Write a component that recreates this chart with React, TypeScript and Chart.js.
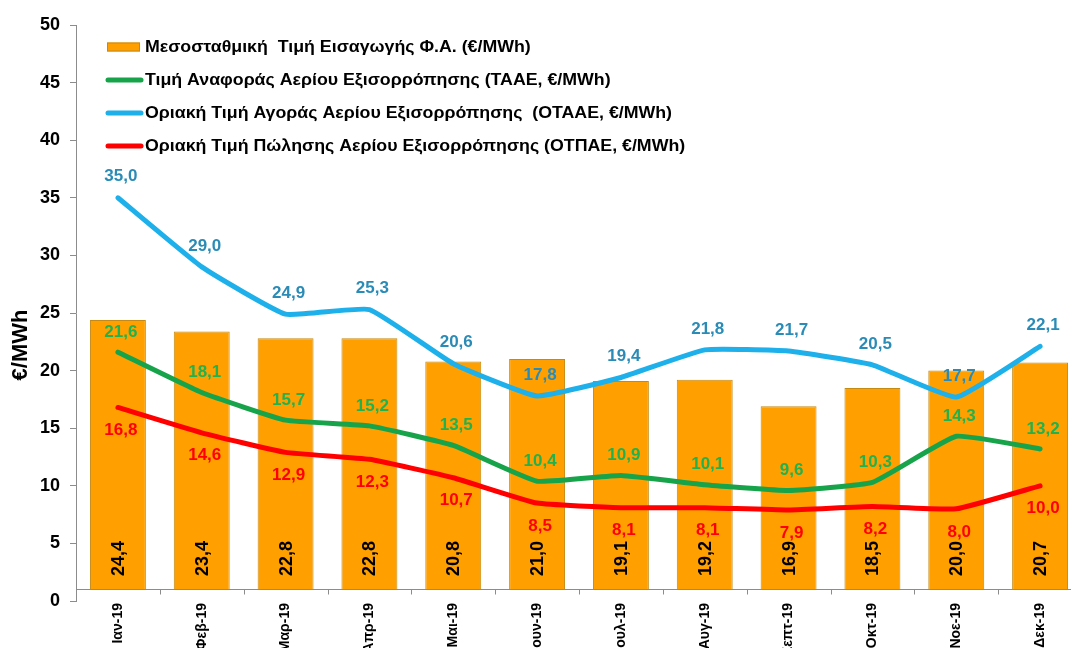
import React, { useEffect, useRef } from 'react';
import { Chart, registerables } from 'chart.js';

Chart.register(...registerables);

const categories = ['Ιαν-19', 'Φεβ-19', 'Μαρ-19', 'Απρ-19', 'Μαι-19', 'Ιουν-19', 'Ιουλ-19', 'Αυγ-19', 'Σεπτ-19', 'Οκτ-19', 'Νοε-19', 'Δεκ-19'];
const importPrice = [24.4, 23.4, 22.8, 22.8, 20.8, 21.0, 19.1, 19.2, 16.9, 18.5, 20.0, 20.7];
const taae = [21.6, 18.1, 15.7, 15.2, 13.5, 10.4, 10.9, 10.1, 9.6, 10.3, 14.3, 13.2];
const otaae = [35.0, 29.0, 24.9, 25.3, 20.6, 17.8, 19.4, 21.8, 21.7, 20.5, 17.7, 22.1];
const otpae = [16.8, 14.6, 12.9, 12.3, 10.7, 8.5, 8.1, 8.1, 7.9, 8.2, 8.0, 10.0];
const seriesNames = [
  'Μεσοσταθμική  Τιμή Εισαγωγής Φ.Α. (€/MWh)',
  'Τιμή Αναφοράς Αερίου Εξισορρόπησης (ΤΑΑΕ, €/MWh)',
  'Οριακή Τιμή Αγοράς Αερίου Εξισορρόπησης  (ΟΤΑΑΕ, €/MWh)',
  'Οριακή Τιμή Πώλησης Αερίου Εξισορρόπησης (ΟΤΠΑΕ, €/MWh)',
];
const yTitle = '€/MWh';
const yMin = 0;
const yMax = 50;
const yStep = 5;

const FONT = '"Liberation Sans", Arial, sans-serif';
const CW = 1100;
const CH = 680;

const BAR_FILL = '#FFA000';
const BAR_EDGE = '#C58A14';
const GREEN = '#17A34A';
const BLUE = '#1DB0EA';
const RED = '#FF0000';
const GREEN_TXT = '#22B14C';
const BLUE_TXT = '#2A8BB6';
const RED_TXT = '#FF0000';
const AXIS = '#8C8C8C';

const fmt = (v: number) => v.toFixed(1).replace('.', ',');

const overlay = {
  id: 'overlay',
  afterDatasetsDraw(chart: any) {
    const ctx = chart.ctx as CanvasRenderingContext2D;
    const xs = chart.scales.x;
    const ys = chart.scales.y;
    const area = chart.chartArea;
    ctx.save();
    const ly = Math.round(ys.getPixelForValue(1)) + 0.5;
    const step = xs.getPixelForValue(1) - xs.getPixelForValue(0);
    ctx.strokeStyle = AXIS;
    ctx.lineWidth = 1;
    ctx.beginPath();
    ctx.moveTo(area.left, ly);
    ctx.lineTo(area.right, ly);
    for (let i = 1; i <= categories.length; i++) {
      const px = Math.round(xs.getPixelForValue(i) - step / 2) + 0.5;
      ctx.moveTo(px, ly);
      ctx.lineTo(px, ly + 5);
    }
    ctx.stroke();

    const barMeta = chart.getDatasetMeta(0);
    ctx.font = `bold 18px ${FONT}`;
    ctx.fillStyle = '#000';
    barMeta.data.forEach((el: any, i: number) => {
      ctx.save();
      ctx.translate(el.x + 1, ys.getPixelForValue(0) - 25);
      ctx.rotate(-Math.PI / 2);
      ctx.textAlign = 'left';
      ctx.textBaseline = 'middle';
      ctx.fillText(fmt(importPrice[i]), 0, 0);
      ctx.restore();
    });

    const specs = [
      { idx: 1, data: taae, color: GREEN_TXT, dy: -20 },
      { idx: 2, data: otaae, color: BLUE_TXT, dy: -21 },
      { idx: 3, data: otpae, color: RED_TXT, dy: 23 },
    ];
    ctx.font = `bold 17px ${FONT}`;
    ctx.textAlign = 'center';
    ctx.textBaseline = 'middle';
    specs.forEach((s) => {
      const meta = chart.getDatasetMeta(s.idx);
      ctx.fillStyle = s.color;
      meta.data.forEach((el: any, i: number) => {
        ctx.fillText(fmt(s.data[i]), el.x + 3, el.y + s.dy);
      });
    });
    ctx.restore();
  },
  afterDraw(chart: any) {
    const ctx = chart.ctx as CanvasRenderingContext2D;
    ctx.save();
    ctx.translate(21, 345);
    ctx.rotate(-Math.PI / 2);
    ctx.font = `bold 22px ${FONT}`;
    ctx.fillStyle = '#000';
    ctx.textAlign = 'center';
    ctx.textBaseline = 'middle';
    ctx.fillText(yTitle, 0, 0);
    ctx.restore();

    ctx.save();
    const rows = [47, 80, 113, 146];
    const colors = [BAR_FILL, GREEN, BLUE, RED];
    rows.forEach((ry, i) => {
      if (i === 0) {
        ctx.fillStyle = BAR_FILL;
        ctx.fillRect(107, ry - 4.5, 33, 9);
        ctx.strokeStyle = BAR_EDGE;
        ctx.lineWidth = 1;
        ctx.strokeRect(107.5, ry - 4, 32, 8);
      } else {
        ctx.strokeStyle = colors[i];
        ctx.lineWidth = 5;
        ctx.lineCap = 'round';
        ctx.beginPath();
        ctx.moveTo(108, ry);
        ctx.lineTo(141, ry);
        ctx.stroke();
      }
      ctx.save();
      ctx.translate(145, ry + 1);
      ctx.scale(1.11, 1);
      ctx.font = `bold 16px ${FONT}`;
      ctx.textBaseline = 'middle';
      ctx.textAlign = 'left';
      ctx.fillStyle = '#000';
      ctx.fillText(seriesNames[i], 0, 0);
      ctx.restore();
    });
    ctx.restore();
  },
};

export default function App() {
  const ref = useRef<HTMLCanvasElement | null>(null);
  useEffect(() => {
    if (!ref.current) return;
    const lineCommon = {
      type: 'line' as const,
      borderWidth: 5,
      pointRadius: 0,
      pointHoverRadius: 0,
      tension: 0.12,
      borderCapStyle: 'round' as const,
      borderJoinStyle: 'round' as const,
      fill: false,
      order: 0,
    };
    const chart = new Chart(ref.current, {
      type: 'bar',
      data: {
        labels: categories,
        datasets: [
          {
            type: 'bar',
            label: seriesNames[0],
            data: importPrice,
            backgroundColor: BAR_FILL,
            borderColor: BAR_EDGE,
            borderWidth: 1,
            base: 1,
            barPercentage: 0.667,
            categoryPercentage: 1,
            order: 10,
          } as any,
          { ...lineCommon, label: seriesNames[1], data: taae, borderColor: GREEN, backgroundColor: GREEN },
          { ...lineCommon, label: seriesNames[2], data: otaae, borderColor: BLUE, backgroundColor: BLUE },
          { ...lineCommon, label: seriesNames[3], data: otpae, borderColor: RED, backgroundColor: RED },
        ],
      },
      options: {
        responsive: false,
        animation: false,
        devicePixelRatio: 1,
        layout: { padding: { top: 25, right: 18, left: 0, bottom: 0 } },
        plugins: { legend: { display: false }, tooltip: { enabled: false }, title: { display: false } },
        scales: {
          x: {
            type: 'category',
            offset: true,
            grid: { display: false, drawTicks: false },
            border: { display: false },
            ticks: {
              autoSkip: false,
              minRotation: 90,
              maxRotation: 90,
              padding: 2,
              color: '#000',
              font: { family: FONT, size: 14, weight: 'bold' },
            },
            afterFit: (s: any) => { s.height = CH - 601; },
          },
          y: {
            min: yMin,
            max: yMax,
            ticks: { stepSize: yStep, padding: 10, color: '#000', font: { family: FONT, size: 18, weight: 'bold' } },
            grid: { drawOnChartArea: false, drawTicks: true, tickLength: 6, color: AXIS },
            border: { display: true, color: AXIS, width: 1 },
            afterFit: (s: any) => { s.width = 76; },
          },
        },
      } as any,
      plugins: [overlay],
    });
    return () => chart.destroy();
  }, []);
  return (
    <div style={{ position: 'fixed', left: 0, top: 0, width: 1071, height: 648, overflow: 'hidden', background: '#fff' }}>
      <canvas ref={ref} width={CW} height={CH} style={{ width: CW, height: CH, display: 'block' }} />
    </div>
  );
}
